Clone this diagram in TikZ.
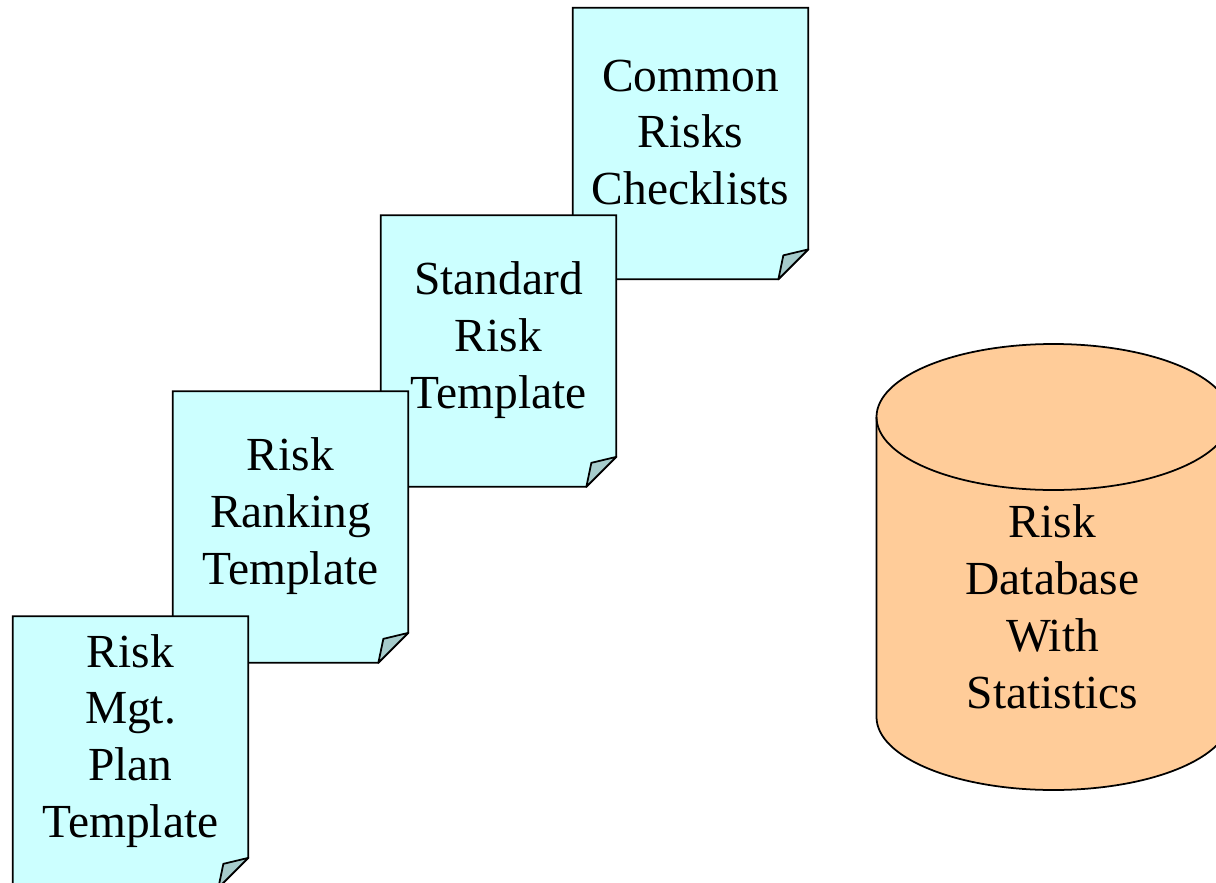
\documentclass[tikz,border=0pt]{standalone}
\usepackage{fontspec}
\setmainfont{Liberation Serif}
\usepackage{xcolor}
\usepackage{tikz}
\usetikzlibrary{calc}

\definecolor{pagecyan}{HTML}{CCFFFF}
\definecolor{foldgray}{HTML}{A6CCCC}
\definecolor{dbpeach}{HTML}{FFCC99}

\begin{document}
\begin{tikzpicture}[
    page/.style={rectangle, minimum width=4.7cm, minimum height=5.42cm, inner sep=0pt},
    pageedge/.style={draw=black, fill=pagecyan, line width=1pt, line join=miter},
    flap/.style={draw=black, fill=foldgray, line width=1pt, line join=round},
    doctext/.style={align=center, font=\fontsize{27}{32.4}\selectfont},
    dbedge/.style={draw=black, fill=dbpeach, line width=1pt}
]
\useasboundingbox (0,0) rectangle (24.32,-17.66);
\clip (0,0) rectangle (24.32,-17.66);

% --- Checklists (top, drawn first) ---
\node[page] (check) at (13.81,-2.87) {};
\draw[pageedge] (check.north west) -- (check.north east) -- ([yshift=0.6cm]check.south east)
    -- ([xshift=-0.6cm]check.south east) -- (check.south west) -- cycle;
\draw[flap] ([yshift=0.6cm]check.south east) -- ([shift={(-0.5,0.48)}]check.south east)
    -- ([xshift=-0.6cm]check.south east) -- cycle;
\node[doctext] (checktxt) at ([yshift=0.22cm]check.center) {Common\\Risks\\Checklists};

% --- Standard template ---
\node[page] (std) at (9.97,-7.02) {};
\draw[pageedge] (std.north west) -- (std.north east) -- ([yshift=0.6cm]std.south east)
    -- ([xshift=-0.6cm]std.south east) -- (std.south west) -- cycle;
\draw[flap] ([yshift=0.6cm]std.south east) -- ([shift={(-0.5,0.48)}]std.south east)
    -- ([xshift=-0.6cm]std.south east) -- cycle;
\node[doctext] (stdtxt) at ([yshift=0.22cm]std.center) {Standard\\Risk\\Template};

% --- Ranking template ---
\node[page] (rank) at (5.81,-10.54) {};
\draw[pageedge] (rank.north west) -- (rank.north east) -- ([yshift=0.6cm]rank.south east)
    -- ([xshift=-0.6cm]rank.south east) -- (rank.south west) -- cycle;
\draw[flap] ([yshift=0.6cm]rank.south east) -- ([shift={(-0.5,0.48)}]rank.south east)
    -- ([xshift=-0.6cm]rank.south east) -- cycle;
\node[doctext] (ranktxt) at ([yshift=0.22cm]rank.center) {Risk\\Ranking\\Template};

% --- Mgt. plan template (front) ---
\node[page] (plan) at (2.61,-15.04) {};
\draw[pageedge] (plan.north west) -- (plan.north east) -- ([yshift=0.6cm]plan.south east)
    -- ([xshift=-0.6cm]plan.south east) -- (plan.south west) -- cycle;
\draw[flap] ([yshift=0.6cm]plan.south east) -- ([shift={(-0.5,0.48)}]plan.south east)
    -- ([xshift=-0.6cm]plan.south east) -- cycle;
\node[doctext] (plantxt) at ([yshift=0.22cm]plan.center) {Risk\\Mgt.\\Plan\\Template};

% --- Database cylinder ---
\coordinate (dbtop) at (21.07,-8.34);
\coordinate (dbbot) at (21.07,-14.34);
\draw[dbedge] ($(dbtop)+(-3.54,0)$) -- ($(dbbot)+(-3.54,0)$)
    arc[start angle=180, end angle=360, x radius=3.54cm, y radius=1.46cm]
    -- ($(dbtop)+(3.54,0)$)
    arc[start angle=0, end angle=180, x radius=3.54cm, y radius=1.46cm] -- cycle;
\draw[line width=1pt] ($(dbtop)+(-3.54,0)$)
    arc[start angle=180, end angle=360, x radius=3.54cm, y radius=1.46cm];
\node[doctext] (dbtxt) at (21.05,-12.14) {Risk\\Database\\With\\Statistics};

\end{tikzpicture}
\end{document}
